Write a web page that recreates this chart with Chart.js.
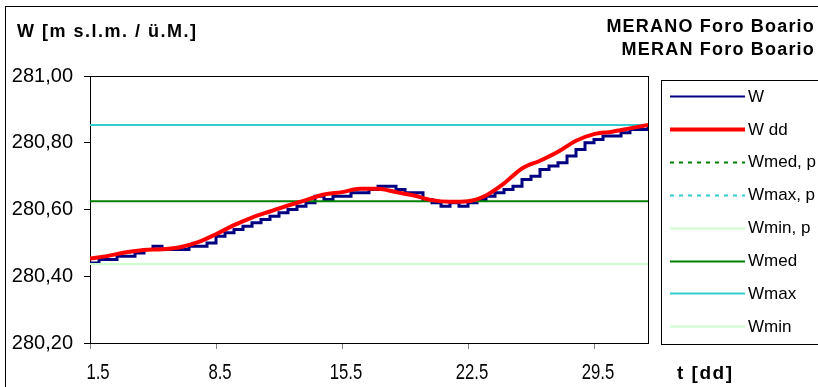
<!DOCTYPE html>
<html>
<head>
<meta charset="utf-8">
<script src="https://cdn.jsdelivr.net/npm/chart.js@4.4.1/dist/chart.umd.min.js"></script>
<style>
	html, body { margin: 0; padding: 0; background: #fff; }
	#grafico { display: block; }
</style>
</head>
<body>
<canvas id="grafico" width="818" height="387"></canvas>
<script>
// livello W ogni mezza giornata (dal giorno 1.5 al 32.5)
var wValori = [280.44, 280.45, 280.45, 280.46, 280.46, 280.47, 280.48, 280.49, 280.48, 280.48,
	280.48, 280.49, 280.49, 280.50, 280.52, 280.53, 280.54, 280.55, 280.56, 280.57,
	280.58, 280.59, 280.60, 280.61, 280.62, 280.64, 280.63, 280.64, 280.64, 280.65,
	280.65, 280.66, 280.67, 280.67, 280.66, 280.65, 280.65, 280.63, 280.62, 280.61,
	280.62, 280.61, 280.62, 280.63, 280.64, 280.65, 280.66, 280.67, 280.69, 280.70,
	280.72, 280.73, 280.74, 280.76, 280.78, 280.80, 280.81, 280.82, 280.82, 280.83,
	280.84, 280.84, 280.85];
// media giornaliera Wdd (giorni 1.5 ... 32.5)
var wddValori = [280.453, 280.461, 280.472, 280.479, 280.481, 280.487, 280.502, 280.526,
	280.553, 280.576, 280.594, 280.612, 280.628, 280.645, 280.652, 280.662,
	280.662, 280.652, 280.642, 280.628, 280.623, 280.625, 280.642, 280.678,
	280.723, 280.746, 280.773, 280.806, 280.826, 280.833, 280.843, 280.853];
var livelliNomi = ["Wmed", "Wmax", "Wmin"];
var livelliValori = [280.625, 280.853, 280.437];
var legendaNomi = ["W", "W dd", "Wmed, p", "Wmax, p", "Wmin, p", "Wmed", "Wmax", "Wmin"];
var xTicks = [1.5, 8.5, 15.5, 22.5, 29.5];
var yTicks = [280.2, 280.4, 280.6, 280.8, 281.0];
var giornoInizio = 1.5, giornoFine = 32.5;

var puntiW = [];
for (var i = 0; i < wValori.length; i++) puntiW.push({x: giornoInizio + i * 0.5, y: wValori[i]});
var puntiWdd = [];
for (var i = 0; i < wddValori.length; i++) puntiWdd.push({x: giornoInizio + i, y: wddValori[i]});
function orizzontale(v) { return [{x: giornoInizio, y: v}, {x: giornoFine, y: v}]; }

var FONT = "'Liberation Sans', Arial, sans-serif";

// stile di ogni voce della legenda
var legendaStili = [
	{color: "#000080", width: 2, dash: []},
	{color: "#ff0000", width: 4, dash: []},
	{color: "#008000", width: 2, dash: [4, 5]},
	{color: "#33cccc", width: 2, dash: [4, 5]},
	{color: "#ccffcc", width: 2, dash: []},
	{color: "#008000", width: 2, dash: []},
	{color: "#33cccc", width: 2, dash: []},
	{color: "#ccffcc", width: 2, dash: []}
];

var cornice = {
	id: "cornice",
	beforeDatasetsDraw: function(chart) {
		var c = chart.ctx, a = chart.chartArea;
		c.save();
		c.strokeStyle = "#000";
		c.lineWidth = 1;
		c.strokeRect(Math.round(a.left) + 0.5, Math.round(a.top) + 0.5, Math.round(a.right - a.left), Math.round(a.bottom - a.top));
		c.restore();
	},
	afterDraw: function(chart) {
		var c = chart.ctx;
		c.save();
		// bordo esterno
		c.strokeStyle = "#000";
		c.lineWidth = 1;
		c.strokeRect(5.5, 6.5, 830, 400);
		// etichette asse x, strette come Arial Narrow
		var sx = chart.scales.x;
		c.fillStyle = "#000";
		c.font = "22px " + FONT;
		c.textAlign = "center";
		c.textBaseline = "alphabetic";
		for (var i = 0; i < xTicks.length; i++) {
			c.save();
			c.translate(sx.getPixelForValue(xTicks[i]) + (i == 0 ? 8 : 4), 379);
			c.scale(0.76, 1);
			c.fillText(String(xTicks[i]), 0, 0);
			c.restore();
		}
		// titoli
		c.font = "bold 18px " + FONT;
		c.letterSpacing = "1.5px";
		c.textAlign = "left";
		c.fillText("W [m s.l.m. / \u00fc.M.]", 17, 37);
		c.letterSpacing = "1.2px";
		c.textAlign = "right";
		c.fillText("MERANO Foro Boario", 815, 32);
		c.fillText("MERAN Foro Boario", 815, 55);
		c.font = "bold 19px " + FONT;
		c.letterSpacing = "1.5px";
		c.textAlign = "left";
		c.fillText("t [dd]", 677, 379);
		c.letterSpacing = "0px";
		// legenda
		c.strokeStyle = "#000";
		c.lineWidth = 1;
		c.strokeRect(661.5, 80.5, 200, 264);
		c.font = "17px " + FONT;
		c.textBaseline = "middle";
		for (var i = 0; i < legendaNomi.length; i++) {
			var y = 96 + i * 32.9;
			var s = legendaStili[i];
			c.beginPath();
			c.strokeStyle = s.color;
			c.lineWidth = s.width;
			c.setLineDash(s.dash);
			c.moveTo(670, Math.round(y) + 0.5);
			c.lineTo(745, Math.round(y) + 0.5);
			c.stroke();
			c.setLineDash([]);
			c.fillStyle = "#000";
			c.fillText(legendaNomi[i], 748, y + 1);
		}
		c.restore();
	}
};

var dati = {
	datasets: [
		{label: "W", data: puntiW, borderColor: "#000080", borderWidth: 3, stepped: true, pointRadius: 0, order: 3},
		{label: "W dd", data: puntiWdd, borderColor: "#ff0000", borderWidth: 4, tension: 0.4, cubicInterpolationMode: "monotone", pointRadius: 0, order: 0},
		{label: livelliNomi[0], data: orizzontale(livelliValori[0]), borderColor: "#008000", borderWidth: 2, pointRadius: 0, order: 1},
		{label: livelliNomi[1], data: orizzontale(livelliValori[1]), borderColor: "#33cccc", borderWidth: 2, pointRadius: 0, order: 1},
		{label: livelliNomi[2], data: orizzontale(livelliValori[2]), borderColor: "#ccffcc", borderWidth: 2, pointRadius: 0, order: 1}
	]
};

new Chart(document.getElementById("grafico"), {
	type: "line",
	data: dati,
	plugins: [cornice],
	options: {
		responsive: false,
		animation: false,
		events: [],
		layout: {padding: {top: 76, right: 170, bottom: 0, left: 0}},
		plugins: {legend: {display: false}, tooltip: {enabled: false}},
		scales: {
			x: {
				type: "linear",
				min: giornoInizio,
				max: giornoFine,
				afterBuildTicks: function(s) { s.ticks = xTicks.map(function(v) { return {value: v}; }); },
				afterFit: function(s) { s.height = 44; },
				border: {display: false},
				grid: {drawOnChartArea: false, drawTicks: true, tickLength: 6, color: "#808080"},
				ticks: {display: false}
			},
			y: {
				min: 280.2,
				max: 281.0,
				afterBuildTicks: function(s) { s.ticks = yTicks.map(function(v) { return {value: v}; }); },
				afterFit: function(s) { s.width = 90; },
				border: {display: false},
				grid: {drawOnChartArea: false, drawTicks: true, tickLength: 6, color: "#000"},
				ticks: {color: "#000", font: {family: FONT, size: 20}, padding: 11,
					callback: function(v) { return v.toFixed(2).replace(".", ","); }}
			}
		}
	}
});
</script>
</body>
</html>
